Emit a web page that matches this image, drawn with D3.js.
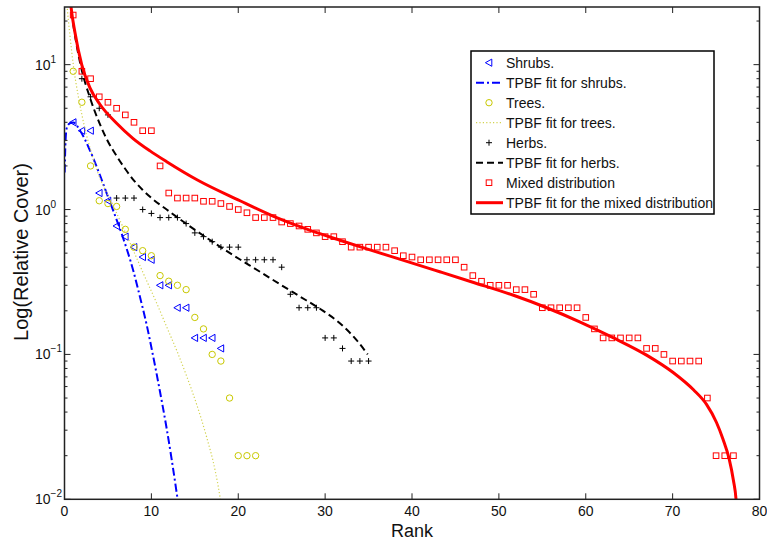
<!DOCTYPE html>
<html>
<head>
<meta charset="utf-8">
<script src="https://cdn.jsdelivr.net/npm/d3@7"></script>
<style>
  body { margin: 0; background: #fff; }
  svg { display: block; font-family: 'Liberation Sans', Arial, Helvetica, sans-serif; }
</style>
</head>
<body>
<div class="chart-container"></div>
<script>
// observed relative cover by rank (rank = first rank + index)
const shrubCover = [4.0, 3.5, 3.5, 1.3, 1.15, 0.77, 0.65, 0.55, 0.47, 0.45, 0.3, 0.3, 0.21, 0.21, 0.13, 0.13, 0.13, 0.11];
const treeCover = [9, 5.5, 2, 1.15, 1.1, 1.05, 0.73, 0.55, 0.52, 0.48, 0.35, 0.32, 0.3, 0.28, 0.18, 0.15, 0.1, 0.09, 0.05, 0.02, 0.02, 0.02];
const herbCover = [8, 6, 5, 4.5, 1.2, 1.2, 1.2, 1.0, 0.94, 0.88, 0.88, 0.88, 0.8, 0.69, 0.65, 0.6, 0.55, 0.55, 0.55,
    0.45, 0.45, 0.45, 0.45, 0.4, 0.26, 0.21, 0.21, 0.21, 0.13, 0.13, 0.11, 0.09, 0.09, 0.09];
const mixedCover = [22, 9, 8, 6, 5.5, 5, 4.5, 4, 3.5, 3.5, 2, 1.3, 1.2, 1.2, 1.2, 1.14, 1.14, 1.1, 1.05, 1.0,
    0.95, 0.88, 0.88, 0.88, 0.82, 0.8, 0.77, 0.73, 0.69, 0.65, 0.65, 0.6, 0.55, 0.55, 0.55, 0.55, 0.55, 0.52, 0.48, 0.47,
    0.45, 0.45, 0.45, 0.45, 0.45, 0.4, 0.35, 0.32, 0.3, 0.3, 0.3, 0.28, 0.28, 0.26, 0.21, 0.21, 0.21, 0.21, 0.21, 0.18,
    0.15, 0.13, 0.13, 0.13, 0.13, 0.13, 0.11, 0.11, 0.1, 0.09, 0.09, 0.09, 0.09, 0.05, 0.02, 0.02, 0.02];
const shrubFirstRank = 1;
const treeFirstRank = 1;
const herbFirstRank = 2;
const mixedFirstRank = 1;

// TPBF fitted curves
const shrubFitRank = [0.02, 0.1, 0.25, 0.6, 1.0, 1.8, 2.94, 4.09, 4.86, 5.6, 6.6, 7.92, 8.69, 9.46, 10.1, 11.0, 11.76, 12.34, 12.91, 13.2];
const shrubFitCover = [1.8, 2.77, 3.64, 3.93, 3.98, 3.5, 2.55, 1.72, 1.294, 0.986, 0.675, 0.378, 0.249, 0.16, 0.1045, 0.055, 0.0308, 0.0188, 0.0111, 0.0084];
const treeFitRank = [0.15, 0.25, 0.63, 1.01, 1.59, 1.98, 2.55, 3.31, 4.09, 5.5, 7.54, 9.07, 10.61, 11.76, 13.0, 14.06, 15.21, 16.36, 17.32, 17.9, 18.1];
const treeFitCover = [35.5, 28.2, 15.85, 10.0, 6.03, 4.57, 3.24, 2.24, 1.64, 1.096, 0.589, 0.363, 0.226, 0.155, 0.1035, 0.0708, 0.0452, 0.0269, 0.016, 0.01035, 0.0085];
const herbFitRank = [1.0, 1.5, 2.0, 3.0, 4.0, 5.0, 6.0, 7.0, 8.0, 9.0, 10.0, 11.76, 14.06, 16.36, 19.42, 22.5, 24.8, 27.1, 29.4, 31.7, 33.6, 34.9];
const herbFitCover = [19.05, 12.6, 9.12, 5.75, 3.98, 2.95, 2.34, 1.905, 1.585, 1.365, 1.202, 1.0, 0.794, 0.638, 0.484, 0.372, 0.305, 0.251, 0.2065, 0.164, 0.126, 0.1];
const mixedFitRank = [0.65, 0.75, 1.21, 1.98, 2.93, 4.09, 6.0, 7.9, 9.84, 11.76, 15.3, 20.2, 24.0, 27.9, 31.7, 34.8, 39.4,
    43.2, 47.0, 51.6, 55.5, 59.3, 63.2, 67.0, 70.06, 72.4, 73.9, 75.05, 75.8, 76.5, 77.0, 77.3, 77.5];
const mixedFitCover = [28.8, 25.1, 16.6, 10.0, 6.92, 5.31, 3.94, 3.09, 2.54, 2.14, 1.6, 1.15, 0.902, 0.733, 0.614, 0.535, 0.439,
    0.372, 0.315, 0.257, 0.21, 0.168, 0.13, 0.0989, 0.075, 0.057, 0.0452, 0.0339, 0.026, 0.0191, 0.0135, 0.01, 0.0063];

const xTicks = [0, 10, 20, 30, 40, 50, 60, 70, 80];
const yDecades = [-2, -1, 0, 1];
const legendLabels = ['Shrubs.', 'TPBF fit for shrubs.', 'Trees.', 'TPBF fit for trees.', 'Herbs.',
    'TPBF fit for herbs.', 'Mixed distribution', 'TPBF fit for the mixed distribution'];

const width = 767;
const height = 544;
const plotLeft = 64.5;
const plotRight = 759.5;
const plotTop = 7;
const plotBottom = 499.3;

const blue = '#0000ff';
const yellow = '#c8c800';
const red = '#ff0000';
const axisColor = '#222';

const svg = d3.select('.chart-container')
    .append('svg')
    .attr('width', width)
    .attr('height', height);

const x = d3.scaleLinear().domain([0, 80]).range([plotLeft, plotRight]);
const y = d3.scaleLog().domain([0.01, 25]).range([plotBottom, plotTop]);

svg.append('clipPath')
    .attr('id', 'plot-clip')
    .append('rect')
    .attr('x', plotLeft)
    .attr('y', plotTop)
    .attr('width', plotRight - plotLeft)
    .attr('height', plotBottom - plotTop);

const toPoints = (values, first) => values.map((v, i) => ({ r: first + i, v }));
const toCurve = (ranks, values) => ranks.map((r, i) => ({ r, v: values[i] }));

const line = d3.line()
    .x(d => x(d.r))
    .y(d => y(d.v))
    .curve(d3.curveMonotoneX);

const plot = svg.append('g').attr('clip-path', 'url(#plot-clip)');

// marker shapes
const marker = {
    triangle: g => g.append('path').attr('d', 'M-3.6,0L2.8,-3.6L2.8,3.6Z')
        .attr('fill', 'none').attr('stroke', blue).attr('stroke-width', 1),
    circle: g => g.append('circle').attr('r', 3.2)
        .attr('fill', 'none').attr('stroke', yellow).attr('stroke-width', 1),
    plus: g => g.append('path').attr('d', 'M-3,0H3M0,-3V3')
        .attr('fill', 'none').attr('stroke', '#000').attr('stroke-width', 1),
    square: g => g.append('rect').attr('x', -2.8).attr('y', -2.8).attr('width', 5.6).attr('height', 5.6)
        .attr('fill', 'none').attr('stroke', red).attr('stroke-width', 1)
};

const series = [
    { points: toPoints(shrubCover, shrubFirstRank), marker: 'triangle',
        fit: toCurve(shrubFitRank, shrubFitCover), stroke: blue, width: 2, dash: '8,3,2,3' },
    { points: toPoints(treeCover, treeFirstRank), marker: 'circle',
        fit: toCurve(treeFitRank, treeFitCover), stroke: '#d2d250', width: 1.2, dash: '1.2,2.2' },
    { points: toPoints(herbCover, herbFirstRank), marker: 'plus',
        fit: toCurve(herbFitRank, herbFitCover), stroke: '#000', width: 2, dash: '7,4' },
    { points: toPoints(mixedCover, mixedFirstRank), marker: 'square',
        fit: toCurve(mixedFitRank, mixedFitCover), stroke: red, width: 3, dash: null }
];

series.forEach(s => {
    plot.selectAll(null)
        .data(s.points)
        .enter()
        .append('g')
        .attr('transform', d => `translate(${x(d.r)},${y(d.v)})`)
        .each(function () { marker[s.marker](d3.select(this)); });

    plot.append('path')
        .datum(s.fit)
        .attr('d', line)
        .attr('fill', 'none')
        .attr('stroke', s.stroke)
        .attr('stroke-width', s.width)
        .attr('stroke-dasharray', s.dash);
});

// axes box with inside ticks, matlab style
const axes = svg.append('g').attr('stroke', axisColor).attr('stroke-width', 1);

axes.append('rect')
    .attr('x', plotLeft)
    .attr('y', plotTop)
    .attr('width', plotRight - plotLeft)
    .attr('height', plotBottom - plotTop)
    .attr('fill', 'none')
    .attr('stroke-width', 1.5);

xTicks.forEach(t => {
    axes.append('line').attr('x1', x(t)).attr('x2', x(t)).attr('y1', plotBottom).attr('y2', plotBottom - 6);
    axes.append('line').attr('x1', x(t)).attr('x2', x(t)).attr('y1', plotTop).attr('y2', plotTop + 6);
});

const minorValues = [];
yDecades.forEach(e => {
    d3.range(2, 10).forEach(m => {
        const v = m * Math.pow(10, e);
        if (v < 25) minorValues.push(v);
    });
});

yDecades.forEach(e => {
    const py = y(Math.pow(10, e));
    axes.append('line').attr('x1', plotLeft).attr('x2', plotLeft + 6).attr('y1', py).attr('y2', py);
    axes.append('line').attr('x1', plotRight).attr('x2', plotRight - 6).attr('y1', py).attr('y2', py);
});
minorValues.forEach(v => {
    axes.append('line').attr('x1', plotLeft).attr('x2', plotLeft + 3).attr('y1', y(v)).attr('y2', y(v));
    axes.append('line').attr('x1', plotRight).attr('x2', plotRight - 3).attr('y1', y(v)).attr('y2', y(v));
});

svg.selectAll('.xlabel')
    .data(xTicks)
    .enter()
    .append('text')
    .attr('class', 'xlabel')
    .attr('x', d => x(d))
    .attr('y', 516)
    .attr('text-anchor', 'middle')
    .style('font-size', '14px')
    .attr('fill', '#111')
    .text(d => d);

yDecades.forEach(e => {
    const label = svg.append('text')
        .attr('x', 35)
        .attr('y', y(Math.pow(10, e)) + 5)
        .style('font-size', '14px')
        .attr('fill', '#111');
    label.append('tspan').text('10');
    label.append('tspan')
        .attr('dy', -7)
        .style('font-size', '10px')
        .text(e < 0 ? '\u2212' + (-e) : String(e));
});

svg.append('text')
    .attr('x', 412)
    .attr('y', 537)
    .attr('text-anchor', 'middle')
    .style('font-size', '18px')
    .attr('fill', '#111')
    .text('Rank');

svg.append('text')
    .attr('transform', 'translate(28,252) rotate(-90)')
    .attr('text-anchor', 'middle')
    .style('font-size', '20px')
    .attr('fill', '#111')
    .text('Log(Relative Cover)');

// legend
const legend = svg.append('g');
legend.append('rect')
    .attr('x', 471)
    .attr('y', 51)
    .attr('width', 243)
    .attr('height', 163)
    .attr('fill', '#fff')
    .attr('stroke', '#000')
    .attr('stroke-width', 1.5);

legendLabels.forEach((label, i) => {
    const s = series[Math.floor(i / 2)];
    const cy = 62.7 + i * 20;
    if (i % 2 === 0) {
        const g = legend.append('g').attr('transform', `translate(489,${cy})`);
        marker[s.marker](g);
    } else {
        legend.append('line')
            .attr('x1', 476)
            .attr('x2', 503)
            .attr('y1', cy)
            .attr('y2', cy)
            .attr('stroke', s.stroke)
            .attr('stroke-width', s.width)
            .attr('stroke-dasharray', s.dash);
    }
    legend.append('text')
        .attr('x', 506)
        .attr('y', cy + 5)
        .style('font-size', '14px')
        .attr('fill', '#111')
        .text(label);
});
</script>
</body>
</html>
